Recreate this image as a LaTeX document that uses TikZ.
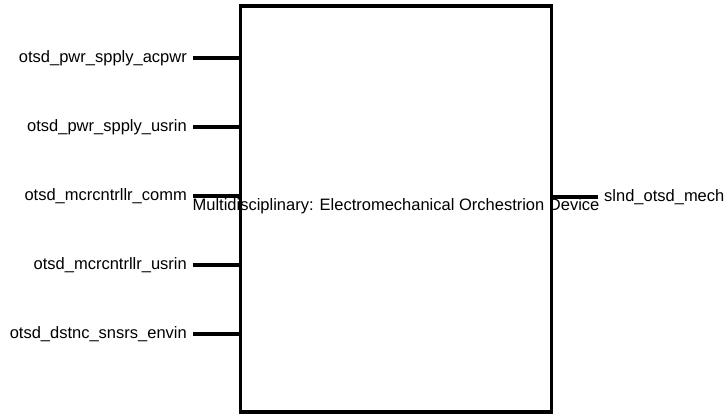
\documentclass[tikz,border=0pt]{standalone}
\usepackage{fontspec}
\setmainfont{Liberation Sans}
\usetikzlibrary{positioning}

\begin{document}
\begin{tikzpicture}[
  x=1pt, y=-1pt,
  block/.style={draw=black, line width=3.6pt, minimum width=311pt,
    minimum height=406pt, inner sep=0pt},
  portname/.style={font=\fontsize{16.5}{20}\selectfont, inner xsep=6pt,
    inner ysep=2pt},
  port/.style={line width=3.6pt, black}
]
\useasboundingbox (0,0) rectangle (725,415);
\node[block] (dev) at (396,209) {};
\node[portname, anchor=base] (devname) at (396,210)
  {Multidisciplinary: Electromechanical Orchestrion Device};
% inputs
\node[portname, anchor=east] (acpwr) at (193,58) {otsd\_pwr\_spply\_acpwr};
\node[portname, anchor=east] (pwrusr) at (193,127) {otsd\_pwr\_spply\_usrin};
\node[portname, anchor=east] (comm) at (193,196) {otsd\_mcrcntrllr\_comm};
\node[portname, anchor=east] (mcusr) at (193,265) {otsd\_mcrcntrllr\_usrin};
\node[portname, anchor=east] (envin) at (193,334) {otsd\_dstnc\_snsrs\_envin};
\draw[port] (acpwr.east) -- (acpwr.east -| dev.west);
\draw[port] (pwrusr.east) -- (pwrusr.east -| dev.west);
\draw[port] (comm.east) -- (comm.east -| dev.west);
\draw[port] (mcusr.east) -- (mcusr.east -| dev.west);
\draw[port] (envin.east) -- (envin.east -| dev.west);
% output
\node[portname, anchor=west] (mech) at (598,197) {slnd\_otsd\_mech};
\draw[port] (dev.east |- mech.west) -- (mech.west);
\end{tikzpicture}
\end{document}
